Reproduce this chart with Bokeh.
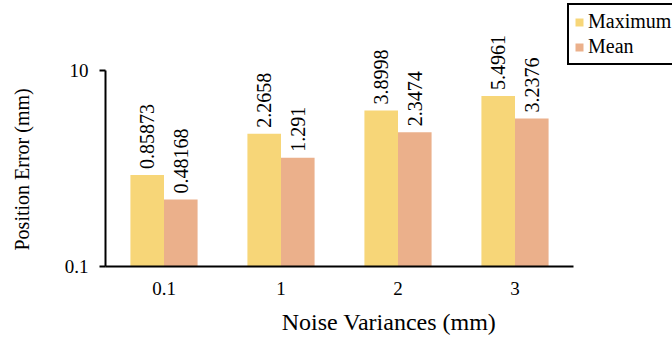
import math
from bokeh.plotting import figure
from bokeh.models import (ColumnDataSource, FixedTicker, CustomJSTickFormatter,
                          LabelSet, Legend, LegendItem, Range1d, Title)
from bokeh.core.properties import value
from bokeh.embed import file_html
from bokeh.resources import INLINE

categories = ["0.1", "1", "2", "3"]
maximum = [0.85873, 2.2658, 3.8998, 5.4961]
mean = [0.48168, 1.291, 2.3474, 3.2376]
maximum_labels = ["0.85873", "2.2658", "3.8998", "5.4961"]
mean_labels = ["0.48168", "1.291", "2.3474", "3.2376"]
y_ticks = [0.1, 10]

FONT = "Liberation Serif"
YELLOW = "#F7D678"
ORANGE = "#EBB08B"

bw = 0.287
centers = [i + 0.5 for i in range(len(categories))]
src = ColumnDataSource(dict(
    xmax=[c - bw / 2 for c in centers], xmean=[c + bw / 2 for c in centers],
    maximum=maximum, mean=mean, maxlab=maximum_labels, meanlab=mean_labels,
    bottom=[0.1] * len(categories)))

# frame: x 105..672 (4 groups over 468 px), y 0..266 (2 decades over 196 px)
x_end = len(categories) * (672 - 105) / 468.0
y_end = 10 ** (1 + 70 / 98.0)

p = figure(width=672, height=340,
           x_range=Range1d(0, x_end),
           y_axis_type="log", y_range=Range1d(0.1, y_end),
           output_backend="svg", toolbar_location=None,
           min_border_left=0, min_border_right=0,
           min_border_top=0, min_border_bottom=74)
p.outline_line_color = None
p.background_fill_color = "white"
p.border_fill_color = "white"
p.xgrid.visible = False
p.ygrid.visible = False

r1 = p.vbar(x="xmax", top="maximum", bottom="bottom", width=bw, source=src,
            fill_color=YELLOW, line_color=None)
r2 = p.vbar(x="xmean", top="mean", bottom="bottom", width=bw, source=src,
            fill_color=ORANGE, line_color=None)

for xcol, col, lab in [("xmax", "maximum", "maxlab"), ("xmean", "mean", "meanlab")]:
    ls = LabelSet(x=xcol, y=col, text=lab, source=src,
                  angle=math.pi / 2, text_align="left", text_baseline="middle",
                  y_offset=6, text_font=value(FONT), text_font_size=value("20px"),
                  text_color="black")
    p.add_layout(ls)

# y axis
ya = p.yaxis[0]
ya.bounds = (0.1, 10)
ya.ticker = FixedTicker(ticks=y_ticks, minor_ticks=[])
ya.formatter = CustomJSTickFormatter(code="return tick < 1 ? tick.toFixed(1) : tick.toFixed(0);")
ya.axis_line_color = "black"
ya.axis_line_width = 2
ya.major_tick_line_color = "black"
ya.major_tick_line_width = 2
ya.major_tick_out = 6
ya.major_tick_in = 0
ya.minor_tick_line_color = None
ya.major_label_text_font = FONT
ya.major_label_text_font_size = "19px"
ya.major_label_text_color = "black"
ya.major_label_standoff = 11
# blank axis label only reserves room between tick labels and the title
ya.axis_label = " "
ya.axis_label_text_font = FONT
ya.axis_label_text_font_size = "16px"
ya.axis_label_standoff = 1

ytitle = Title(text="Position Error (mm)", align="left", offset=16,
               text_font=FONT, text_font_size="20px", text_font_style="normal",
               text_color="black", standoff=16)
p.add_layout(ytitle, "left")

# x axis
xa = p.xaxis[0]
xa.bounds = (0, len(categories))
xa.ticker = FixedTicker(ticks=centers, minor_ticks=[])
xa.formatter = CustomJSTickFormatter(args=dict(labels=categories),
                                     code="return labels[Math.floor(tick)];")
xa.axis_line_color = "black"
xa.axis_line_width = 2
xa.major_tick_line_color = None
xa.minor_tick_line_color = None
xa.major_label_text_font = FONT
xa.major_label_text_font_size = "19px"
xa.major_label_text_color = "black"
xa.major_label_standoff = 9
xa.axis_label = "Noise Variances (mm)"
xa.axis_label_text_font = FONT
xa.axis_label_text_font_size = "24px"
xa.axis_label_text_font_style = "normal"
xa.axis_label_text_color = "black"
xa.axis_label_standoff = 11

legend = Legend(items=[LegendItem(label="Maximum", renderers=[r1]),
                       LegendItem(label="Mean", renderers=[r2])],
                location=(462, 201), orientation="vertical",
                glyph_width=10, glyph_height=10, label_standoff=4,
                padding=5, spacing=2, margin=0,
                label_text_font=FONT, label_text_font_size="20px",
                label_text_color="black", label_height=17,
                border_line_color="black", border_line_width=2, border_line_alpha=1,
                background_fill_color="white", background_fill_alpha=1)
p.add_layout(legend, "center")

open("out.html", "w").write(file_html(p, INLINE))
